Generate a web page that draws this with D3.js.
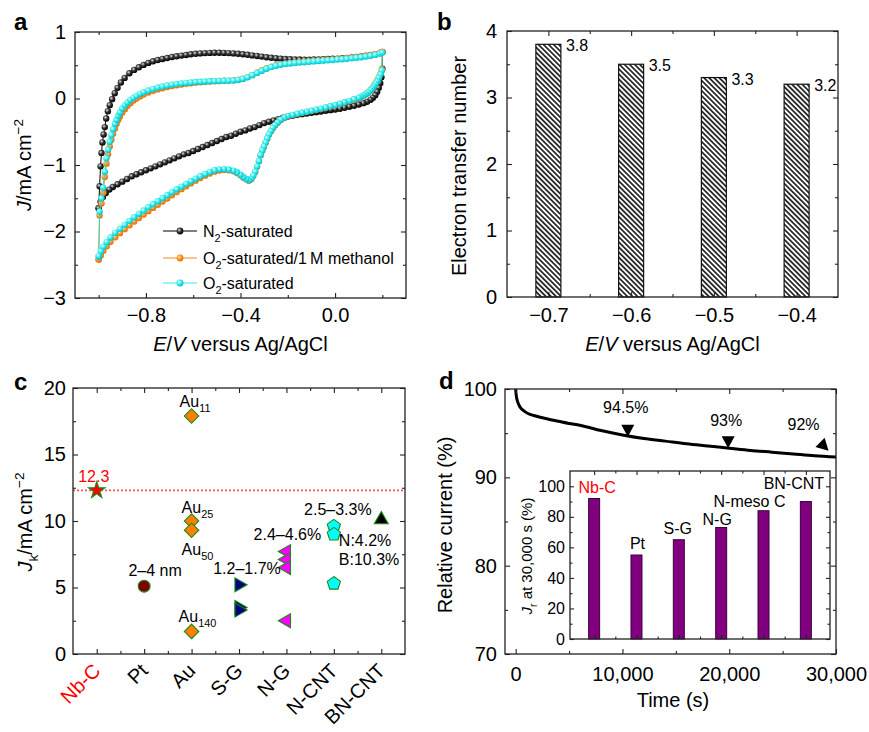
<!DOCTYPE html>
<html>
<head>
<meta charset="utf-8">
<script src="https://cdn.jsdelivr.net/npm/d3@7"></script>
<style>
  body { margin: 0; background: #fff; }
  text { font-family: "Liberation Sans", Arial, Helvetica, sans-serif; fill: #000; }
</style>
</head>
<body>
<svg id="fig" width="869" height="732"></svg>
<script>
// ---------------- data ----------------
// (a) cyclic voltammograms: [E (V vs Ag/AgCl), J (mA cm-2)]
var n2Anodic = [[-1.000,-1.65],[-0.996,-1.32],[-0.992,-1.02],[-0.988,-0.82],[-0.984,-0.66],[-0.979,-0.54],[-0.974,-0.43],[-0.968,-0.30],[-0.961,-0.19],[-0.953,-0.10],[-0.943,-0.01],[-0.932,0.08],[-0.920,0.16],[-0.906,0.24],[-0.890,0.31],[-0.870,0.38],[-0.850,0.43],[-0.830,0.47],[-0.810,0.505],[-0.790,0.535],[-0.770,0.56],[-0.750,0.58],[-0.730,0.595],[-0.710,0.61],[-0.690,0.625],[-0.670,0.635],[-0.650,0.645],[-0.630,0.655],[-0.610,0.665],[-0.590,0.672],[-0.570,0.678],[-0.550,0.683],[-0.530,0.686],[-0.510,0.688],[-0.490,0.688],[-0.470,0.686],[-0.450,0.683],[-0.430,0.678],[-0.410,0.672],[-0.390,0.665],[-0.370,0.657],[-0.350,0.648],[-0.330,0.64],[-0.310,0.63],[-0.290,0.62],[-0.270,0.612],[-0.250,0.605],[-0.230,0.598],[-0.210,0.593],[-0.190,0.59],[-0.170,0.588],[-0.150,0.586],[-0.130,0.585],[-0.110,0.585],[-0.090,0.586],[-0.070,0.588],[-0.050,0.59],[-0.030,0.593],[-0.010,0.597],[0.010,0.60],[0.030,0.605],[0.050,0.61],[0.070,0.617],[0.090,0.625],[0.110,0.633],[0.130,0.643],[0.150,0.655],[0.170,0.668],[0.190,0.685],[0.200,0.70]]
var n2Cathodic = [[0.200,0.45],[0.196,0.32],[0.191,0.23],[0.185,0.16],[0.178,0.10],[0.170,0.05],[0.160,0.01],[0.150,-0.02],[0.135,-0.05],[0.120,-0.07],[0.100,-0.09],[0.080,-0.11],[0.060,-0.125],[0.040,-0.14],[0.020,-0.155],[0.000,-0.165],[-0.020,-0.175],[-0.040,-0.185],[-0.060,-0.195],[-0.080,-0.205],[-0.100,-0.215],[-0.120,-0.225],[-0.140,-0.235],[-0.160,-0.245],[-0.180,-0.258],[-0.200,-0.27],[-0.220,-0.29],[-0.240,-0.31],[-0.260,-0.33],[-0.280,-0.35],[-0.300,-0.37],[-0.320,-0.40],[-0.340,-0.43],[-0.360,-0.45],[-0.380,-0.48],[-0.400,-0.50],[-0.420,-0.53],[-0.440,-0.56],[-0.460,-0.58],[-0.480,-0.61],[-0.500,-0.64],[-0.520,-0.67],[-0.540,-0.70],[-0.560,-0.73],[-0.580,-0.76],[-0.600,-0.79],[-0.620,-0.82],[-0.640,-0.84],[-0.660,-0.87],[-0.680,-0.90],[-0.700,-0.93],[-0.720,-0.96],[-0.740,-0.99],[-0.760,-1.02],[-0.780,-1.05],[-0.800,-1.08],[-0.820,-1.11],[-0.840,-1.14],[-0.860,-1.17],[-0.880,-1.21],[-0.900,-1.25],[-0.920,-1.29],[-0.940,-1.33],[-0.955,-1.37],[-0.970,-1.42],[-0.982,-1.48],[-0.992,-1.55],[-1.000,-1.65]]
var o2MethAnodic = [[-1.000,-2.42],[-0.996,-1.76],[-0.988,-1.58],[-0.981,-1.42],[-0.974,-1.18],[-0.967,-0.98],[-0.960,-0.84],[-0.953,-0.72],[-0.946,-0.62],[-0.939,-0.53],[-0.931,-0.45],[-0.924,-0.38],[-0.917,-0.32],[-0.910,-0.27],[-0.900,-0.21],[-0.889,-0.16],[-0.878,-0.11],[-0.866,-0.07],[-0.853,-0.03],[-0.840,0.00],[-0.825,0.03],[-0.810,0.06],[-0.790,0.09],[-0.770,0.115],[-0.750,0.137],[-0.730,0.155],[-0.710,0.172],[-0.690,0.187],[-0.670,0.20],[-0.650,0.21],[-0.630,0.22],[-0.610,0.23],[-0.590,0.238],[-0.570,0.245],[-0.550,0.25],[-0.530,0.255],[-0.510,0.26],[-0.490,0.263],[-0.470,0.266],[-0.450,0.269],[-0.430,0.274],[-0.410,0.283],[-0.390,0.298],[-0.370,0.322],[-0.350,0.355],[-0.330,0.39],[-0.310,0.424],[-0.290,0.455],[-0.270,0.48],[-0.250,0.50],[-0.230,0.516],[-0.210,0.527],[-0.190,0.536],[-0.170,0.543],[-0.150,0.55],[-0.130,0.556],[-0.110,0.562],[-0.090,0.568],[-0.070,0.574],[-0.050,0.579],[-0.030,0.584],[-0.010,0.589],[0.010,0.595],[0.030,0.60],[0.050,0.607],[0.070,0.614],[0.090,0.622],[0.110,0.63],[0.130,0.64],[0.150,0.652],[0.170,0.666],[0.190,0.685],[0.200,0.70]]
var o2MethCathodic = [[0.198,0.44],[0.192,0.37],[0.185,0.32],[0.178,0.27],[0.171,0.23],[0.164,0.19],[0.157,0.155],[0.150,0.125],[0.140,0.09],[0.130,0.065],[0.120,0.043],[0.110,0.025],[0.100,0.01],[0.080,-0.016],[0.060,-0.04],[0.040,-0.062],[0.020,-0.083],[0.000,-0.103],[-0.020,-0.122],[-0.040,-0.14],[-0.060,-0.157],[-0.080,-0.173],[-0.100,-0.189],[-0.120,-0.204],[-0.140,-0.219],[-0.160,-0.235],[-0.180,-0.251],[-0.200,-0.27],[-0.215,-0.295],[-0.230,-0.325],[-0.243,-0.365],[-0.254,-0.405],[-0.264,-0.45],[-0.272,-0.495],[-0.280,-0.545],[-0.287,-0.605],[-0.294,-0.665],[-0.301,-0.725],[-0.308,-0.785],[-0.315,-0.855],[-0.322,-0.945],[-0.330,-1.025],[-0.338,-1.105],[-0.346,-1.165],[-0.355,-1.215],[-0.365,-1.235],[-0.376,-1.215],[-0.388,-1.19],[-0.400,-1.155],[-0.415,-1.12],[-0.430,-1.095],[-0.450,-1.08],[-0.470,-1.077],[-0.490,-1.083],[-0.510,-1.10],[-0.530,-1.128],[-0.550,-1.16],[-0.570,-1.197],[-0.590,-1.235],[-0.610,-1.277],[-0.630,-1.32],[-0.650,-1.363],[-0.670,-1.407],[-0.690,-1.455],[-0.710,-1.503],[-0.730,-1.55],[-0.750,-1.598],[-0.770,-1.645],[-0.790,-1.694],[-0.810,-1.745],[-0.830,-1.797],[-0.850,-1.85],[-0.870,-1.906],[-0.890,-1.965],[-0.910,-2.025],[-0.930,-2.087],[-0.950,-2.155],[-0.966,-2.22],[-0.980,-2.29],[-0.991,-2.36],[-1.000,-2.42]]
var o2Anodic = [[-1.000,-2.38],[-0.996,-1.70],[-0.988,-1.50],[-0.981,-1.34],[-0.974,-1.10],[-0.967,-0.90],[-0.960,-0.77],[-0.953,-0.65],[-0.946,-0.55],[-0.939,-0.46],[-0.931,-0.38],[-0.924,-0.32],[-0.917,-0.26],[-0.910,-0.21],[-0.900,-0.15],[-0.889,-0.10],[-0.878,-0.06],[-0.866,-0.02],[-0.853,0.01],[-0.840,0.04],[-0.825,0.07],[-0.810,0.095],[-0.790,0.12],[-0.770,0.145],[-0.750,0.165],[-0.730,0.18],[-0.710,0.195],[-0.690,0.208],[-0.670,0.218],[-0.650,0.227],[-0.630,0.235],[-0.610,0.241],[-0.590,0.247],[-0.570,0.252],[-0.550,0.256],[-0.530,0.259],[-0.510,0.262],[-0.490,0.264],[-0.470,0.266],[-0.450,0.268],[-0.430,0.272],[-0.410,0.28],[-0.390,0.295],[-0.370,0.318],[-0.350,0.35],[-0.330,0.385],[-0.310,0.418],[-0.290,0.448],[-0.270,0.472],[-0.250,0.492],[-0.230,0.507],[-0.210,0.518],[-0.190,0.527],[-0.170,0.534],[-0.150,0.54],[-0.130,0.546],[-0.110,0.552],[-0.090,0.558],[-0.070,0.564],[-0.050,0.569],[-0.030,0.574],[-0.010,0.579],[0.010,0.585],[0.030,0.59],[0.050,0.597],[0.070,0.604],[0.090,0.612],[0.110,0.62],[0.130,0.63],[0.150,0.642],[0.170,0.656],[0.190,0.675],[0.200,0.69]]
var o2Cathodic = [[0.198,0.42],[0.192,0.36],[0.185,0.31],[0.178,0.26],[0.171,0.22],[0.164,0.18],[0.157,0.15],[0.150,0.12],[0.140,0.09],[0.130,0.065],[0.120,0.045],[0.110,0.028],[0.100,0.013],[0.080,-0.012],[0.060,-0.035],[0.040,-0.057],[0.020,-0.078],[0.000,-0.098],[-0.020,-0.117],[-0.040,-0.135],[-0.060,-0.152],[-0.080,-0.168],[-0.100,-0.184],[-0.120,-0.199],[-0.140,-0.214],[-0.160,-0.23],[-0.180,-0.246],[-0.200,-0.265],[-0.215,-0.29],[-0.230,-0.32],[-0.243,-0.36],[-0.254,-0.40],[-0.264,-0.445],[-0.272,-0.49],[-0.280,-0.54],[-0.287,-0.60],[-0.294,-0.66],[-0.301,-0.72],[-0.308,-0.78],[-0.315,-0.85],[-0.322,-0.94],[-0.330,-1.02],[-0.338,-1.10],[-0.346,-1.16],[-0.355,-1.21],[-0.365,-1.23],[-0.376,-1.21],[-0.388,-1.18],[-0.400,-1.145],[-0.415,-1.11],[-0.430,-1.085],[-0.450,-1.068],[-0.470,-1.062],[-0.490,-1.066],[-0.510,-1.08],[-0.530,-1.105],[-0.550,-1.135],[-0.570,-1.17],[-0.590,-1.205],[-0.610,-1.245],[-0.630,-1.285],[-0.650,-1.325],[-0.670,-1.365],[-0.690,-1.41],[-0.710,-1.455],[-0.730,-1.50],[-0.750,-1.545],[-0.770,-1.59],[-0.790,-1.635],[-0.810,-1.685],[-0.830,-1.735],[-0.850,-1.785],[-0.870,-1.84],[-0.890,-1.90],[-0.910,-1.96],[-0.930,-2.02],[-0.950,-2.09],[-0.966,-2.16],[-0.980,-2.23],[-0.991,-2.30],[-1.000,-2.37]]

// (b) electron transfer number
var ktPotentials = [-0.7, -0.6, -0.5, -0.4]
var electronNumbers = [3.8, 3.5, 3.3, 3.2]

// (c) kinetic current density of catalysts
var catalysts = ["Nb-C", "Pt", "Au", "S-G", "N-G", "N-CNT", "BN-CNT"]
var jkNbC = [12.3]
var jkPt = [5.1]
var jkAu = [17.9, 10.0, 9.3, 1.7]
var jkSG = [5.2, 3.5, 3.3]
var jkNG = [7.7, 7.1, 6.5, 2.5]
var jkNCNT = [9.6, 9.0, 5.3]
var jkBNCNT = [10.1]

// (d) chronoamperometry
var timeS = [0, 50, 150, 300, 500, 800, 1200, 1700, 2300, 3000, 4000, 5000, 6000, 8000, 10000, 12000, 14000, 16000, 18000, 20000, 22000, 24000, 26000, 28000, 30000]
var relCurrent = [100, 99.3, 98.7, 98.2, 97.8, 97.5, 97.2, 97.0, 96.8, 96.6, 96.35, 96.1, 95.9, 95.3, 94.8, 94.4, 94.1, 93.8, 93.55, 93.3, 93.05, 92.85, 92.65, 92.45, 92.3]
var markTimes = [10500, 19900, 29300]
var markValues = [94.6, 93.3, 93.0]
var markLabels = ["94.5%", "93%", "92%"]

// (d) inset: retention at 30,000 s
var insetCatalysts = ["Nb-C", "Pt", "S-G", "N-G", "N-meso C", "BN-CNT"]
var insetRetention = [92, 55, 65, 73, 84, 90]

// ---------------- helpers ----------------
var svg = d3.select("#fig")
var defs = svg.append("defs")

function ballGradient(id, c0, c1, c2) {
    var g = defs.append("radialGradient").attr("id", id)
        .attr("cx", "38%").attr("cy", "35%").attr("r", "65%")
    g.append("stop").attr("offset", "0%").attr("stop-color", c0)
    g.append("stop").attr("offset", "45%").attr("stop-color", c1)
    g.append("stop").attr("offset", "100%").attr("stop-color", c2)
}
ballGradient("ballN2", "#e6e6e6", "#3a3a3a", "#000")
ballGradient("ballO2M", "#ffe2b8", "#ff9a2e", "#e27000")
ballGradient("ballO2", "#f0ffff", "#3ff2f2", "#00c2cc")

var hatch = defs.append("pattern").attr("id", "hatch")
    .attr("patternUnits", "userSpaceOnUse").attr("width", 3.6).attr("height", 3.6)
    .attr("patternTransform", "rotate(-45)")
hatch.append("rect").attr("width", 3.6).attr("height", 3.6).attr("fill", "#fff")
hatch.append("line").attr("x1", 1.8).attr("x2", 1.8).attr("y1", 0).attr("y2", 3.6)
    .attr("stroke", "#000").attr("stroke-width", 1.5)

// inward ticks, optional labels
function tickRow(g, axisFn, scale, values, size, transform, fmt, pad, fontSize) {
    var a = g.append("g").attr("transform", transform || null)
        .call(axisFn(scale).tickValues(values).tickSizeInner(-size).tickSizeOuter(0)
            .tickPadding(pad || 8).tickFormat(fmt || function() { return "" }))
    a.select(".domain").remove()
    a.attr("font-size", null).attr("font-family", null)
    a.selectAll("line").attr("stroke", "#222").attr("stroke-width", 1.1)
    a.selectAll("text").style("font-size", (fontSize || 20) + "px").attr("fill", "#000")
    return a
}

function boxAxes(g, x, y, o) {
    var w = x.range()[1], h = y.range()[0]
    var big = o.big || 5, small = o.small || 3
    tickRow(g, d3.axisBottom, x, o.xMajor, big, "translate(0," + h + ")", o.xFormat, o.xPad, o.font)
    tickRow(g, d3.axisBottom, x, o.xMinor, small, "translate(0," + h + ")")
    tickRow(g, d3.axisTop, x, o.xMajor, big)
    tickRow(g, d3.axisTop, x, o.xMinor, small)
    tickRow(g, d3.axisLeft, y, o.yMajor, big, null, o.yFormat, o.yPad, o.font)
    tickRow(g, d3.axisLeft, y, o.yMinor, small)
    tickRow(g, d3.axisRight, y, o.yMajor, big, "translate(" + w + ",0)")
    tickRow(g, d3.axisRight, y, o.yMinor, small, "translate(" + w + ",0)")
    g.append("rect").attr("width", w).attr("height", h)
        .attr("fill", "none").attr("stroke", "#222").attr("stroke-width", 1.3)
}

// text with italic / sub / superscript parts
function rich(sel, parts, size) {
    var shift = 0
    parts.forEach(function(p) {
        var t = sel.append("tspan").text(p[0])
        var target = p[1] == "sub" ? 0.3 * size : (p[1] == "sup" ? -0.42 * size : 0)
        if (target != shift) { t.attr("dy", target - shift); shift = target }
        if (p[1] == "sub" || p[1] == "sup") t.style("font-size", (size * 0.68) + "px")
        if (p[1] == "i") t.style("font-style", "italic")
    })
    return sel
}

function panelLetter(x, y, s) {
    svg.append("text").attr("x", x).attr("y", y).text(s)
        .style("font-size", "24px").style("font-weight", "bold")
}

var fmt1 = d3.format(".1f")
var fmtInt = d3.format("d")

// ---------------- (a) ----------------
var ga = svg.append("g").attr("transform", "translate(75,32)")
var xa = d3.scaleLinear().domain([-1.1, 0.3]).range([0, 331])
var ya = d3.scaleLinear().domain([-3, 1]).range([266, 0])

var cvLine = d3.line().x(function(d) { return xa(d[0]) }).y(function(d) { return ya(d[1]) })
var cvSeries = [
    { name: [["N", ""], ["2", "sub"], ["-saturated", ""]], pts: n2Anodic.concat(n2Cathodic), line: "#000", ball: "url(#ballN2)" },
    { name: [["O", ""], ["2", "sub"], ["-saturated/1\u2009M methanol", ""]], pts: o2MethAnodic.concat(o2MethCathodic), line: "#ff8a1c", ball: "url(#ballO2M)" },
    { name: [["O", ""], ["2", "sub"], ["-saturated", ""]], pts: o2Anodic.concat(o2Cathodic), line: "#2ed6c8", ball: "url(#ballO2)" }
]
cvSeries.forEach(function(s) {
    ga.append("path").attr("d", cvLine(s.pts)).attr("fill", "none")
        .attr("stroke", s.line).attr("stroke-width", 1)
    ga.append("g").selectAll("circle").data(s.pts).enter().append("circle")
        .attr("cx", function(d) { return xa(d[0]) })
        .attr("cy", function(d) { return ya(d[1]) })
        .attr("r", 3.2).attr("fill", s.ball)
})

boxAxes(ga, xa, ya, {
    xMajor: [-0.8, -0.4, 0.0], xMinor: [-1.0, -0.6, -0.2, 0.2], xFormat: fmt1, xPad: 10,
    yMajor: [-3, -2, -1, 0, 1], yMinor: [-2.5, -1.5, -0.5, 0.5], yFormat: fmtInt, yPad: 9
})

// legend
var legA = ga.append("g").attr("transform", "translate(88,199)")
var legendColors = ["#000", "#ff8a1c", "#33e8f0"]
cvSeries.forEach(function(s, i) {
    var row = legA.append("g").attr("transform", "translate(0," + [0, 27, 52][i] + ")")
    row.append("line").attr("x1", 0).attr("x2", 34).attr("stroke", legendColors[i]).attr("stroke-width", 1.2)
    row.append("circle").attr("cx", 17).attr("r", 3.4).attr("fill", s.ball)
    rich(row.append("text").attr("x", 40).attr("y", 6).style("font-size", "16px"), s.name, 16)
})

rich(svg.append("text").attr("x", 240.5).attr("y", 351).attr("text-anchor", "middle").style("font-size", "20px"),
    [["E", "i"], ["/", ""], ["V", "i"], [" versus Ag/AgCl", ""]], 20)
rich(svg.append("text").attr("transform", "translate(31,165) rotate(-90)").attr("text-anchor", "middle").style("font-size", "20px"),
    [["J", "i"], ["/mA cm", ""], ["\u22122", "sup"]], 20)
panelLetter(14, 30, "a")

// ---------------- (b) ----------------
var gb = svg.append("g").attr("transform", "translate(507,31)")
var xb = d3.scaleLinear().domain([-0.75, -0.35]).range([0, 331])
var yb = d3.scaleLinear().domain([0, 4]).range([266, 0])
var barW = 25

gb.selectAll(".hbar").data(ktPotentials).enter().append("rect")
    .attr("class", "hbar")
    .attr("x", function(d) { return xb(d) - barW / 2 })
    .attr("y", function(d, i) { return yb(electronNumbers[i]) })
    .attr("width", barW)
    .attr("height", function(d, i) { return yb(0) - yb(electronNumbers[i]) })
    .attr("fill", "url(#hatch)").attr("stroke", "#111").attr("stroke-width", 1.2)
gb.selectAll(".hlab").data(ktPotentials).enter().append("text")
    .attr("x", function(d) { return xb(d) + barW / 2 + 5 })
    .attr("y", function(d, i) { return yb(electronNumbers[i]) + 7 })
    .style("font-size", "16px")
    .text(function(d, i) { return fmt1(electronNumbers[i]) })

boxAxes(gb, xb, yb, {
    xMajor: ktPotentials, xMinor: [-0.65, -0.55, -0.45], xFormat: fmt1, xPad: 11,
    yMajor: [0, 1, 2, 3, 4], yMinor: [0.5, 1.5, 2.5, 3.5], yFormat: fmtInt, yPad: 10
})
rich(svg.append("text").attr("x", 672.5).attr("y", 351).attr("text-anchor", "middle").style("font-size", "20px"),
    [["E", "i"], ["/", ""], ["V", "i"], [" versus Ag/AgCl", ""]], 20)
svg.append("text").attr("transform", "translate(466,166) rotate(-90)").attr("text-anchor", "middle")
    .style("font-size", "20px").text("Electron transfer number")
panelLetter(437, 30, "b")

// ---------------- (c) ----------------
var gc = svg.append("g").attr("transform", "translate(73,388)")
var xc = d3.scaleLinear().domain([0.5, 7.5]).range([0, 332])
var yc = d3.scaleLinear().domain([0, 20]).range([266, 0])

// reference line at the Nb-C value
gc.append("line").attr("x1", 0).attr("x2", 332)
    .attr("y1", yc(jkNbC[0])).attr("y2", yc(jkNbC[0]))
    .attr("stroke", "#ff5050").attr("stroke-width", 1.6).attr("stroke-dasharray", "2,2")

var symbolPentagon = {
    draw: function(ctx, size) {
        var r = Math.sqrt(size / 2.3776)
        for (var i = 0; i < 5; i++) {
            var a = -Math.PI / 2 + i * 2 * Math.PI / 5
            if (i == 0) ctx.moveTo(r * Math.cos(a), r * Math.sin(a))
            else ctx.lineTo(r * Math.cos(a), r * Math.sin(a))
        }
        ctx.closePath()
    }
}
var jkSeries = [jkNbC, jkPt, jkAu, jkSG, jkNG, jkNCNT, jkBNCNT]
var markerStyle = [
    { type: d3.symbolStar, size: 85, rot: 0, fill: "#ff0000" },
    { type: d3.symbolCircle, size: 110, rot: 0, fill: "#800000" },
    { type: d3.symbolSquare, size: 105, rot: 45, fill: "#ff8000" },
    { type: d3.symbolTriangle, size: 85, rot: 90, fill: "#000080" },
    { type: d3.symbolTriangle, size: 85, rot: -90, fill: "#ff00ff" },
    { type: symbolPentagon, size: 115, rot: 0, fill: "#00ffff" },
    { type: d3.symbolTriangle, size: 85, rot: 0, fill: "#000000" }
]
jkSeries.forEach(function(vals, i) {
    var st = markerStyle[i]
    gc.append("g").selectAll("path").data(vals).enter().append("path")
        .attr("d", d3.symbol().type(st.type).size(st.size))
        .attr("transform", function(v) { return "translate(" + xc(i + 1) + "," + yc(v) + ") rotate(" + st.rot + ")" })
        .attr("fill", st.fill).attr("stroke", "#1a8a1a").attr("stroke-width", 1.1)
})

function note(x, y, parts, anchor, color) {
    var t = gc.append("text").attr("x", x).attr("y", y).attr("text-anchor", anchor || "start")
        .style("font-size", "16px")
    if (color) t.style("fill", color)
    rich(t, parts, 16)
}
note(xc(1) - 3, yc(jkNbC[0]) - 8, [["12.3", ""]], "middle", "#ff0000")
note(xc(2) + 11, yc(jkPt[0]) - 10, [["2\u20134 nm", ""]], "middle")
note(xc(3) - 12, yc(jkAu[0]) - 9, [["Au", ""], ["11", "sub"]])
note(xc(3) - 10, yc(jkAu[1]) - 8, [["Au", ""], ["25", "sub"]])
note(xc(3) - 10, yc(jkAu[2]) + 25, [["Au", ""], ["50", "sub"]])
note(xc(3) - 13, yc(jkAu[3]) - 9, [["Au", ""], ["140", "sub"]])
note(xc(4) + 8, yc(jkSG[0]) - 11, [["1.2\u20131.7%", ""]], "middle")
note(xc(5) + 1, yc(jkNG[0]) - 12, [["2.4\u20134.6%", ""]], "middle")
note(xc(6) + 4, yc(jkNCNT[0]) - 11, [["2.5\u20133.3%", ""]], "middle")
note(xc(6) + 5, yc(jkBNCNT[0]) + 26, [["N:4.2%", ""]])
note(xc(6) + 5, yc(jkBNCNT[0]) + 45, [["B:10.3%", ""]])

boxAxes(gc, xc, yc, {
    xMajor: [1, 2, 3, 4, 5, 6, 7], xMinor: [1.5, 2.5, 3.5, 4.5, 5.5, 6.5],
    yMajor: [0, 5, 10, 15, 20], yMinor: [2.5, 7.5, 12.5, 17.5], yFormat: fmtInt, yPad: 7
})
gc.append("g").selectAll("text").data(catalysts).enter().append("text")
    .attr("transform", function(d, i) { return "translate(" + (xc(i + 1) + 5) + ",284) rotate(-45)" })
    .attr("text-anchor", "end").style("font-size", "20px")
    .style("fill", function(d, i) { return i == 0 ? "#ff0000" : "#000" })
    .text(function(d) { return d })
rich(svg.append("text").attr("transform", "translate(32,522) rotate(-90)").attr("text-anchor", "middle").style("font-size", "20px"),
    [["J", "i"], ["k", "sub"], ["/mA cm", ""], ["\u22122", "sup"]], 20)
panelLetter(14, 390, "c")

// ---------------- (d) ----------------
var gd = svg.append("g").attr("transform", "translate(505,389)")
var xd = d3.scaleLinear().domain([-1000, 30000]).range([0, 331])
var yd = d3.scaleLinear().domain([70, 100]).range([265, 0])

gd.append("path")
    .attr("d", d3.line().curve(d3.curveMonotoneX)
        .x(function(d, i) { return xd(timeS[i]) })
        .y(function(d) { return yd(d) })(relCurrent))
    .attr("fill", "none").attr("stroke", "#000").attr("stroke-width", 3)

var labelOffsets = [[-2, -24], [-2, -22], [-25, -21]]
markTimes.forEach(function(t, i) {
    var px = xd(t), py = yd(markValues[i])
    var rot = i == 2 ? -45 : 0
    gd.append("path")
        .attr("d", "M0,0 L-6.5,-12 L6.5,-12 Z")
        .attr("transform", "translate(" + px + "," + py + ") rotate(" + rot + ")")
        .attr("fill", "#000")
    gd.append("text").attr("x", px + labelOffsets[i][0]).attr("y", py + labelOffsets[i][1])
        .attr("text-anchor", "middle").style("font-size", "16px").text(markLabels[i])
})

boxAxes(gd, xd, yd, {
    xMajor: [0, 10000, 20000, 30000], xMinor: [5000, 15000, 25000], xFormat: d3.format(","), xPad: 13,
    yMajor: [70, 80, 90, 100], yMinor: [75, 85, 95], yFormat: fmtInt, yPad: 8
})
svg.append("text").attr("x", 673).attr("y", 707).attr("text-anchor", "middle")
    .style("font-size", "20px").text("Time (s)")
svg.append("text").attr("transform", "translate(452,525) rotate(-90)").attr("text-anchor", "middle")
    .style("font-size", "20px").text("Relative current (%)")
panelLetter(439, 389, "d")

// inset
var gi = svg.append("g").attr("transform", "translate(570,471)")
var xi = d3.scaleLinear().domain([0.43, 6.57]).range([0, 260])
var yi = d3.scaleLinear().domain([0, 110]).range([168, 0])
gi.append("rect").attr("width", 260).attr("height", 168).attr("fill", "#fff")
gi.selectAll(".ibar").data(insetRetention).enter().append("rect")
    .attr("class", "ibar")
    .attr("x", function(d, i) { return xi(i + 1) - 5.5 })
    .attr("y", function(d) { return yi(d) })
    .attr("width", 11)
    .attr("height", function(d) { return yi(0) - yi(d) })
    .attr("fill", "#800080").attr("stroke", "#3d003d").attr("stroke-width", 1)
var insetNudge = [[3, -5], [1, -6], [-1, -6], [-4, -3], [-14, -4], [-12, -13]]
gi.selectAll(".ilab").data(insetCatalysts).enter().append("text")
    .attr("x", function(d, i) { return xi(i + 1) + insetNudge[i][0] })
    .attr("y", function(d, i) { return yi(insetRetention[i]) + insetNudge[i][1] })
    .attr("text-anchor", "middle").style("font-size", "16px")
    .style("fill", function(d, i) { return i == 0 ? "#ff0000" : "#000" })
    .text(function(d) { return d })
boxAxes(gi, xi, yi, {
    big: 4, small: 2.5,
    xMajor: [1, 2, 3, 4, 5, 6], xMinor: [1.5, 2.5, 3.5, 4.5, 5.5],
    yMajor: [0, 20, 40, 60, 80, 100], yMinor: [10, 30, 50, 70, 90], yFormat: fmtInt, yPad: 5, font: 16
})
rich(svg.append("text").attr("transform", "translate(532,556) rotate(-90)").attr("text-anchor", "middle").style("font-size", "15px"),
    [["J", "i"], ["r", "sub"], [" at 30,000 s (%)", ""]], 15)
</script>
</body>
</html>
